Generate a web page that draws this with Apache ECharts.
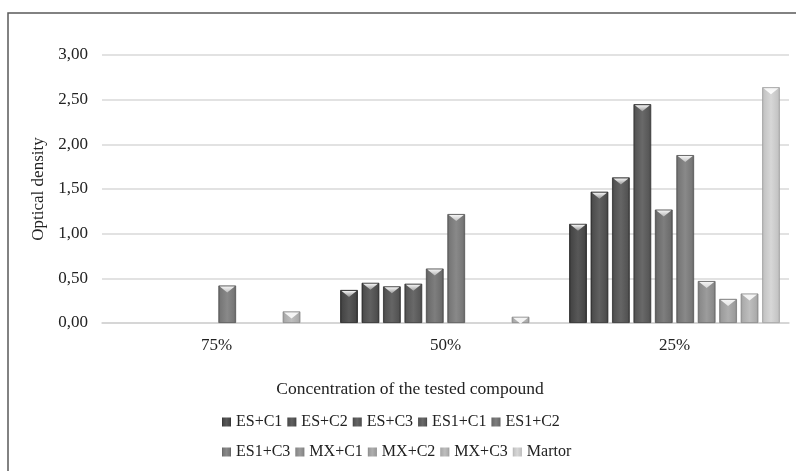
<!DOCTYPE html>
<html>
<head>
<meta charset="utf-8">
<script src="https://cdn.jsdelivr.net/npm/echarts@6/dist/echarts.min.js"></script>
<style>
  html, body { margin: 0; padding: 0; background: #fff; }
  #chart { width: 796px; height: 471px; }
</style>
</head>
<body>
<div id="chart"></div>
<script>
// Concentration groups on the x axis
const categories = ['75%', '50%', '25%'];

// Optical density per treatment, one value per concentration
const seriesNames = ['ES+C1', 'ES+C2', 'ES+C3', 'ES1+C1', 'ES1+C2',
                     'ES1+C3', 'MX+C1', 'MX+C2', 'MX+C3', 'Martor'];
const esC1   = [0, 0.37, 1.11];
const esC2   = [0, 0.45, 1.47];
const esC3   = [0, 0.41, 1.63];
const es1C1  = [0, 0.44, 2.45];
const es1C2  = [0, 0.61, 1.27];
const es1C3  = [0.42, 1.22, 1.88];
const mxC1   = [0, 0, 0.47];
const mxC2   = [0, 0, 0.27];
const mxC3   = [0.13, 0.07, 0.33];
const martor = [0, 0, 2.64];
const seriesValues = [esC1, esC2, esC3, es1C1, es1C2, es1C3, mxC1, mxC2, mxC3, martor];

// Y axis ticks
const yMin = 0, yMax = 3, yStep = 0.5;

// Grey shades, darkest first
const baseGreys = ['#4a4a4a', '#525252', '#575757', '#5b5b5b', '#707070',
                   '#7b7b7b', '#8e8e8e', '#a0a0a0', '#b0b0b0', '#c9c9c9'];

function shade(hex, amt) {
  const n = parseInt(hex.slice(1), 16);
  const c = v => Math.max(0, Math.min(255, v + amt));
  const r = c((n >> 16) & 255), g = c((n >> 8) & 255), b = c(n & 255);
  return 'rgb(' + r + ',' + g + ',' + b + ')';
}

function barGradient(hex) {
  return {
    type: 'linear', x: 0, y: 0, x2: 1, y2: 0,
    colorStops: [
      { offset: 0, color: shade(hex, -28) },
      { offset: 0.12, color: shade(hex, -4) },
      { offset: 0.5, color: shade(hex, 14) },
      { offset: 0.88, color: shade(hex, -4) },
      { offset: 1, color: shade(hex, -30) }
    ]
  };
}

const serif = 'Liberation Serif';
const barGap = '21%';
const catGap = '8%';

const series = [];
seriesNames.forEach((name, i) => {
  const vals = seriesValues[i].map(v => (v === 0 ? '-' : v));
  series.push({
    name: name,
    type: 'bar',
    data: vals,
    barGap: barGap,
    barCategoryGap: catGap,
    itemStyle: {
      color: barGradient(baseGreys[i]),
      borderColor: shade(baseGreys[i], -40),
      borderWidth: 0.8
    },
    emphasis: { disabled: true }
  });
});
// Bevelled caps on top of each bar
seriesNames.forEach((name, i) => {
  const vals = seriesValues[i].map(v => (v === 0 ? '-' : v));
  series.push({
    name: name + ' cap',
    type: 'pictorialBar',
    data: vals,
    barGap: barGap,
    barCategoryGap: catGap,
    symbol: 'path://M0,0 L10,0 L5,4 Z',
    symbolSize: ['84%', 6],
    symbolPosition: 'end',
    symbolOffset: [0, 1],
    symbolClip: false,
    itemStyle: {
      color: {
        type: 'linear', x: 0, y: 0, x2: 0, y2: 1,
        colorStops: [
          { offset: 0, color: '#f4f4f4' },
          { offset: 1, color: shade(baseGreys[i], 70) }
        ]
      }
    },
    z: 5,
    silent: true
  });
});

function legendDef(names, top) {
  return {
    data: names,
    left: 222,
    top: top,
    orient: 'horizontal',
    icon: 'rect',
    itemWidth: 9,
    itemHeight: 9,
    itemGap: 5,
    padding: 0,
    selectedMode: false,
    itemStyle: { borderWidth: 0 },
    textStyle: { fontFamily: serif, fontSize: 16, color: '#222', width: 58 }
  };
}

const chart = echarts.init(document.getElementById('chart'), null, { renderer: 'canvas' });
chart.setOption({
  animation: false,
  backgroundColor: '#fff',
  title: {
    text: 'Concentration of the tested compound',
    left: 405,
    textAlign: 'center',
    top: 375,
    textStyle: { fontFamily: serif, fontSize: 17.5, fontWeight: 'normal', color: '#222' }
  },
  legend: [
    legendDef(seriesNames.slice(0, 5), 414),
    legendDef(seriesNames.slice(5), 444)
  ],
  grid: { left: 102, right: 7, top: 55, bottom: 148 },
  xAxis: {
    type: 'category',
    data: categories,
    axisTick: { show: false },
    axisLine: { lineStyle: { color: '#d2d2d2', width: 1.5 } },
    axisLabel: { fontFamily: serif, fontSize: 17, color: '#222', margin: 14 }
  },
  yAxis: {
    type: 'value',
    min: yMin,
    max: yMax,
    interval: yStep,
    name: 'Optical density',
    nameLocation: 'middle',
    nameGap: 51,
    nameTextStyle: { fontFamily: serif, fontSize: 17, color: '#222' },
    axisLine: { show: false },
    axisTick: { show: false },
    splitLine: { lineStyle: { color: '#d9d9d9', width: 1.5 } },
    axisLabel: {
      fontFamily: serif, fontSize: 17, color: '#222', margin: 14,
      formatter: v => v.toFixed(2).replace('.', ',')
    }
  },
  graphic: [{
    type: 'rect',
    shape: { x: 8, y: 13, width: 800, height: 470 },
    style: { fill: 'none', stroke: '#5a5a5a', lineWidth: 1.5 },
    silent: true,
    z: 100
  }],
  series: series
});
</script>
</body>
</html>
